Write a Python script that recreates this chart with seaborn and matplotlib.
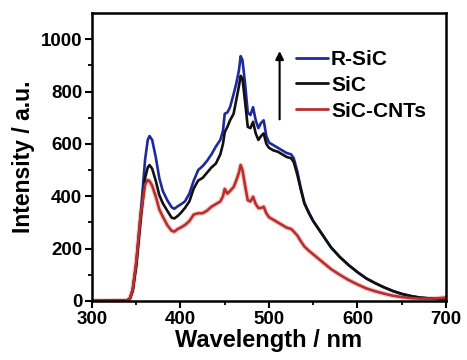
import numpy as np
import pandas as pd
import matplotlib
matplotlib.use("Agg")
import matplotlib.pyplot as plt
import seaborn as sns

# Photoluminescence spectra (wavelength in nm, intensity in a.u.)
wavelength = [300, 340, 343, 346, 350, 355, 360, 363, 365, 368, 372, 376, 380, 385,
              390, 393, 397, 400, 405, 410, 415, 420, 425, 430, 435, 440, 445, 448,
              450, 453, 456, 460, 463, 466, 468, 470, 473, 476, 479, 482, 485, 488,
              491, 494, 497, 500, 505, 510, 515, 520, 525, 528, 532, 536, 540, 545,
              550, 560, 570, 580, 590, 600, 610, 620, 630, 640, 650, 660, 670, 680,
              690, 700]

r_sic = [0, 2, 10, 40, 140, 330, 540, 615, 630, 615, 550, 470, 420, 385,
         358, 352, 362, 368, 380, 410, 460, 500, 515, 535, 560, 590, 615, 650,
         715, 720, 740, 790, 830, 880, 935, 920, 830, 720, 710, 740, 690, 660,
         680, 690, 630, 605, 595, 585, 575, 565, 560, 545, 495, 430, 375, 338,
         305, 255, 205, 168, 137, 110, 86, 68, 52, 38, 27, 19, 13, 10,
         8, 7]

sic = [0, 2, 10, 40, 135, 310, 470, 510, 519, 505, 460, 405, 373, 345,
       318, 315, 325, 335, 355, 380, 430, 460, 470, 490, 510, 525, 560, 600,
       645, 665, 690, 715, 767, 820, 860, 850, 760, 665, 660, 684, 640, 615,
       630, 640, 600, 585, 575, 570, 560, 550, 545, 530, 482, 425, 372, 336,
       305, 255, 205, 168, 137, 110, 86, 68, 52, 38, 27, 19, 13, 10,
       8, 7]

sic_cnts = [0, 2, 12, 45, 150, 330, 445, 462, 458, 440, 400, 350, 322, 290,
            268, 265, 275, 280, 290, 305, 330, 335, 335, 345, 360, 370, 380, 400,
            428, 410, 420, 435, 460, 490, 519, 500, 440, 385, 380, 398, 370, 355,
            355, 360, 335, 320, 310, 300, 290, 280, 275, 265, 250, 228, 208, 192,
            178, 150, 122, 100, 80, 63, 48, 37, 28, 20, 15, 11, 9, 9,
            10, 13]

labels = ["R-SiC", "SiC", "SiC-CNTs"]
colors = ["#1f2a9a", "#111111", "#b8302e"]

df = pd.concat([
    pd.DataFrame({"Wavelength": wavelength, "Intensity": vals, "Sample": name})
    for name, vals in zip(labels, [r_sic, sic, sic_cnts])
], ignore_index=True)

sns.set_theme(style="ticks")
plt.rcParams["font.family"] = ["Liberation Sans", "DejaVu Sans"]
plt.rcParams["font.weight"] = "bold"
for key in ["text.color", "axes.labelcolor", "xtick.color", "ytick.color",
            "axes.edgecolor"]:
    plt.rcParams[key] = "black"

fig = plt.figure(figsize=(4.67, 3.6), dpi=100)
ax = fig.add_axes([0.197, 0.164, 0.758, 0.800])

# soft halo under the red trace
ax.plot(wavelength, sic_cnts, color="#e89090", lw=3.6, alpha=0.45, zorder=1)

sns.lineplot(data=df, x="Wavelength", y="Intensity", hue="Sample",
             hue_order=labels, palette=dict(zip(labels, colors)),
             linewidth=1.9, ax=ax, zorder=2)

ax.set_xlim(300, 700)
ax.set_ylim(0, 1100)
ax.set_xticks([300, 400, 500, 600, 700])
ax.set_xticks([350, 450, 550, 650], minor=True)
ax.set_yticks([0, 200, 400, 600, 800, 1000])
ax.set_yticks([100, 300, 500, 700, 900], minor=True)

ax.tick_params(axis="both", which="major", direction="out", length=5, width=1.5,
               labelsize=13.5, pad=2, colors="black")
ax.tick_params(axis="both", which="minor", direction="out", length=3, width=1.3,
               colors="black")
for lab in ax.get_xticklabels() + ax.get_yticklabels():
    lab.set_fontweight("bold")

for sp in ax.spines.values():
    sp.set_linewidth(1.8)
    sp.set_color("black")

ax.set_xlabel("Wavelength / nm", fontsize=17, fontweight="bold", labelpad=1,
              color="black")
ax.set_ylabel("Intensity / a.u.", fontsize=16.5, fontweight="bold", labelpad=4,
              color="black")

leg = ax.legend(loc="upper left", bbox_to_anchor=(0.575, 0.872), frameon=False,
                handlelength=1.55, handletextpad=0.15, labelspacing=0.33,
                borderaxespad=0, borderpad=0, prop={"size": 15, "weight": "bold"})
for line in leg.get_lines():
    line.set_linewidth(2.0)
for t in leg.get_texts():
    t.set_color("black")

ax.annotate("", xy=(512, 965), xytext=(512, 683),
            arrowprops=dict(arrowstyle="-|>", color="black", lw=1.5,
                            mutation_scale=12))

fig.savefig("out.png", dpi=100)
